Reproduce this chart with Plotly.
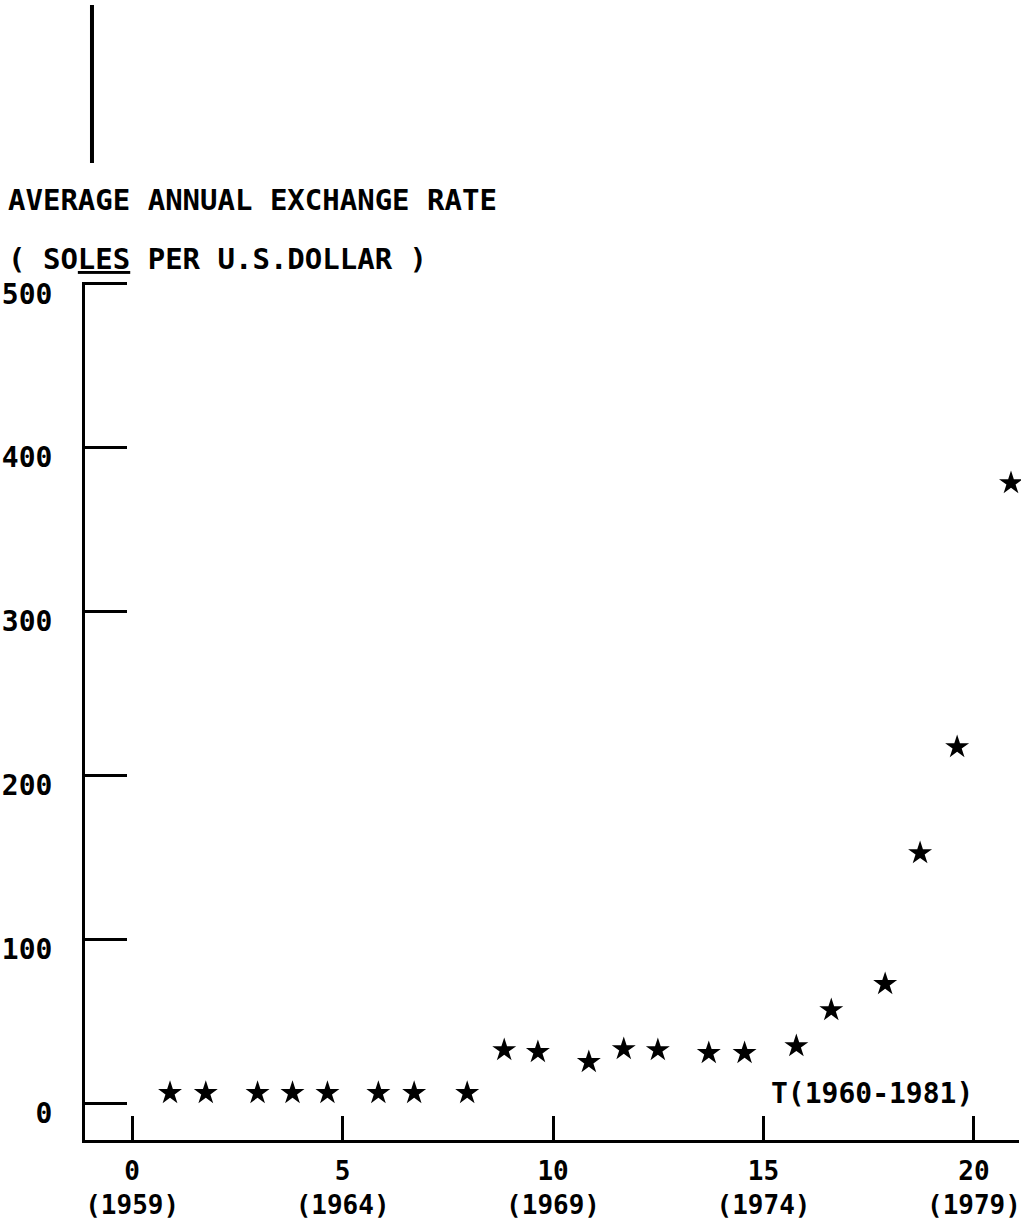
import plotly.graph_objects as go

# ---- data ----
t_values = [0.90, 1.75, 2.98, 3.81, 4.64, 5.85, 6.70, 7.96, 8.84, 9.64, 10.85,
            11.68, 12.49, 13.70, 14.55, 15.78, 16.61, 17.89, 18.72, 19.60, 20.88]
rate_values = [6.2, 6.2, 6.2, 6.2, 6.2, 6.2, 6.2, 6.2, 32.4, 31.2, 25.1,
               33.0, 32.4, 30.6, 30.6, 34.8, 56.8, 72.7, 152.6, 217.3, 378.4]
x_tick_vals = [0, 5, 10, 15, 20]
x_tick_text = ["0<br>(1959)", "5<br>(1964)", "10<br>(1969)", "15<br>(1974)", "20<br>(1979)"]
y_tick_vals = [0, 100, 200, 300, 400, 500]
y_tick_text = ["0", "100", "200", "300", "400", "500"]
title_line1 = "AVERAGE ANNUAL EXCHANGE RATE"
title_line2 = "( SO<u>LES</u> PER U.S.DOLLAR )"
x_label = "T(1960-1981)"

W, H = 1021, 1222
ML, MR, MT, MB = 85, 0, 282, 82
PW, PH = W - ML - MR, H - MT - MB
FONT = "DejaVu Sans Mono"

def px(xp):
    return (xp - ML) / PW

def py(yp):
    return (H - MB - yp) / PH

fig = go.Figure()
fig.add_trace(go.Scatter(
    x=t_values, y=rate_values, mode="markers",
    marker=dict(symbol="star", size=18, color="black", line=dict(width=0)),
    cliponaxis=False, showlegend=False, hoverinfo="x+y",
))

fig.update_layout(
    width=W, height=H,
    margin=dict(l=ML, r=MR, t=MT, b=MB, pad=0),
    paper_bgcolor="white", plot_bgcolor="white",
    font=dict(family=FONT, size=28, color="black"),
    xaxis=dict(
        range=[-1.12, 21.07], showgrid=False, zeroline=False,
        showline=True, linewidth=3, linecolor="black",
        ticks="inside", ticklen=24, tickwidth=3, tickcolor="black",
        tickvals=x_tick_vals, ticktext=x_tick_text,
        tickfont=dict(family=FONT, size=26, color="black", weight="bold"),
        ticklabelstandoff=6, ticklabeloverflow="allow",
    ),
    yaxis=dict(
        range=[-22.5, 501.1], showgrid=False, zeroline=False,
        showline=True, linewidth=3, linecolor="black",
        ticks="inside", ticklen=42, tickwidth=2.5, tickcolor="black",
        tickvals=y_tick_vals, ticktext=y_tick_text,
        tickfont=dict(family=FONT, size=28, color="black", weight="bold"),
        ticklabelstandoff=24, ticklabelshift=10,
    ),
)

fig.add_annotation(
    text=title_line1, xref="paper", yref="paper",
    x=px(6), y=py(200), xanchor="left", yanchor="middle", showarrow=False,
    font=dict(family=FONT, size=29, color="black", weight="bold"),
)
fig.add_annotation(
    text=title_line2, xref="paper", yref="paper",
    x=px(6), y=py(259), xanchor="left", yanchor="middle", showarrow=False,
    font=dict(family=FONT, size=29, color="black", weight="bold"),
)
fig.add_annotation(
    text=x_label, xref="paper", yref="paper",
    x=px(770), y=py(1093), xanchor="left", yanchor="middle", showarrow=False,
    font=dict(family=FONT, size=28, color="black", weight="bold"),
)

# stray vertical rule at the top of the page
fig.add_shape(
    type="line", xref="paper", yref="paper",
    x0=px(92), x1=px(92), y0=py(163), y1=py(5),
    line=dict(color="black", width=4),
)

fig.write_html("out.html")
